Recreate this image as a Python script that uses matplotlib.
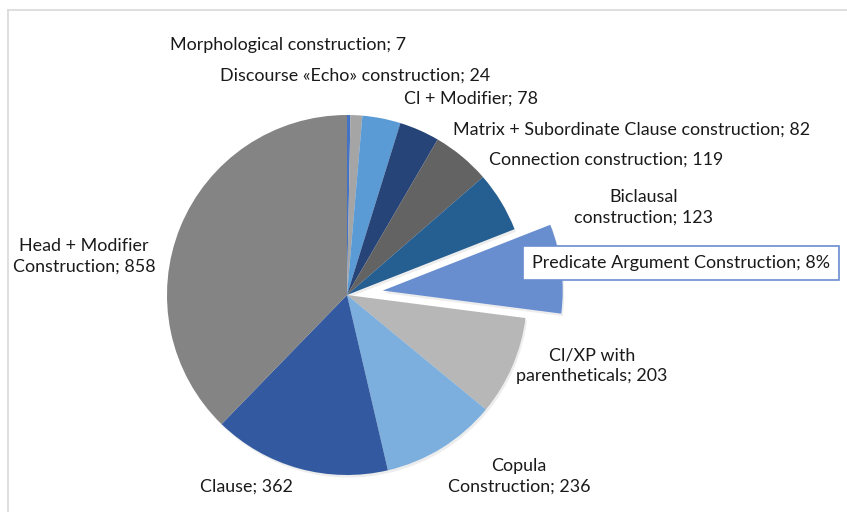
import matplotlib.pyplot as plt
from matplotlib.patches import Wedge

# =========================================================
# DATA
# =========================================================

categories = [
    "Morphological construction",
    "Discourse «Echo» construction",
    "Cl + Modifier",
    "Matrix + Subordinate Clause construction",
    "Connection construction",
    "Biclausal construction",
    "Predicate Argument Construction",
    "Cl/XP with parentheticals",
    "Copula Construction",
    "Clause",
    "Head + Modifier Construction",
]

values = [7, 24, 78, 82, 119, 123, 182, 203, 236, 362, 858]

label_texts = [
    "Morphological construction; 7",
    "Discourse «Echo» construction; 24",
    "Cl + Modifier; 78",
    "Matrix + Subordinate Clause construction; 82",
    "Connection construction; 119",
    "Biclausal\nconstruction; 123",
    "Predicate Argument Construction; 8%",
    "Cl/XP with\nparentheticals; 203",
    "Copula\nConstruction; 236",
    "Clause; 362",
    "Head + Modifier\nConstruction; 858",
]

colors = [
    "#4472C4", "#A5A5A5", "#5B9BD5", "#264478", "#636363", "#255E91",
    "#698ED0", "#B7B7B7", "#7CAFDD", "#335AA1", "#848484",
]

# label centres in pixels (x, y from top)
label_pos = [
    (288, 45), (355, 76), (471, 99), (632, 130), (606, 160),
    (644, 207), (681, 263), (592, 366), (519, 476), (246, 487),
    (84, 256),
]

# =========================================================
# FIGURE
# =========================================================

W, H = 847, 512

plt.rcParams['font.family'] = ['Lato', 'DejaVu Sans']

fig = plt.figure(figsize=(W / 100, H / 100), dpi=100)
ax = fig.add_axes([0, 0, 1, 1])

# chart border
ax.plot([8, 8], [0, H - 10], color="#D9D9D9", lw=1.2)
ax.plot([8, W], [H - 10, H - 10], color="#D9D9D9", lw=1.2)

# explode offset is in data (pixel) units here
explode = [0, 0, 0, 0, 0, 0, 36, 0, 0, 0, 0]

wedges, _ = ax.pie(
    values,
    colors=colors,
    startangle=90,
    counterclock=False,
    center=(347, H - 295),
    radius=180,
    explode=explode,
    wedgeprops=dict(linewidth=0, zorder=3),
    frame=True,
)

# soft shadow under the slices
for w in wedges:
    cx, cy = w.center
    sh = Wedge(
        (cx + 1.5, cy - 2.5), w.r, w.theta1, w.theta2,
        facecolor="black", edgecolor="none", alpha=0.07, zorder=2
    )
    ax.add_patch(sh)

ax.set_xlim(0, W)
ax.set_ylim(0, H)
ax.set_aspect('equal')
ax.axis('off')

# =========================================================
# LABELS
# =========================================================

for i, txt in enumerate(label_texts):
    x, y = label_pos[i]
    kw = {}
    if i == 6:
        kw['bbox'] = dict(
            boxstyle="square,pad=0.5",
            facecolor="white",
            edgecolor="#698ED0",
            linewidth=1.2,
        )
    ax.text(
        x, H - y, txt,
        ha='center', va='center',
        fontsize=12.9, color="#1a1a1a",
        linespacing=1.35, zorder=5,
        **kw
    )

fig.savefig("out.png", dpi=100)
